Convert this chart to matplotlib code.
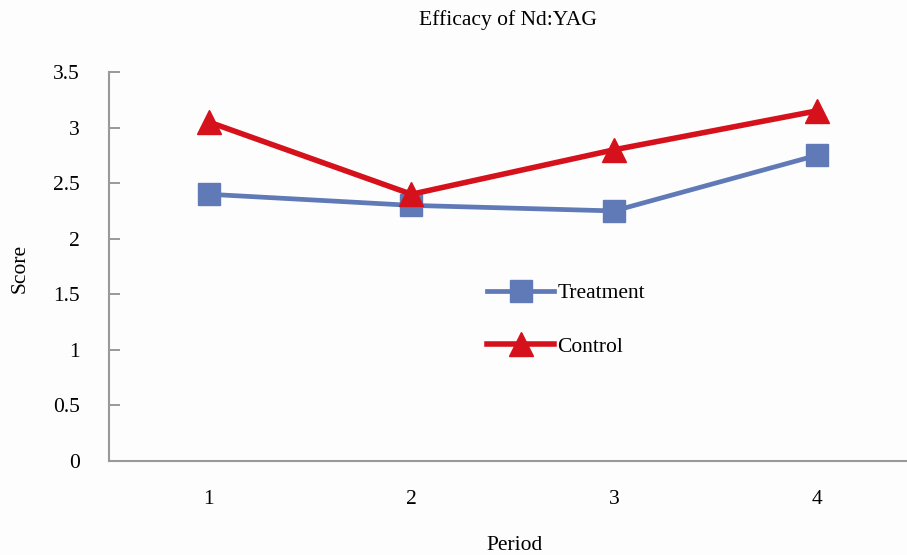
import matplotlib.pyplot as plt

# data
periods = [1, 2, 3, 4]
period_labels = ['1', '2', '3', '4']
treatment = [2.4, 2.3, 2.25, 2.75]
control = [3.05, 2.4, 2.8, 3.15]
yticks = [0, 0.5, 1, 1.5, 2, 2.5, 3, 3.5]
ytick_labels = ['0', '0.5', '1', '1.5', '2', '2.5', '3', '3.5']

plt.rcParams['font.family'] = ['Liberation Serif', 'DejaVu Serif']

fig = plt.figure(figsize=(9.07, 5.55), dpi=100, facecolor='#fdfdfd')
ax = fig.add_axes([109/907, 94/555, 809/907, 389/555])
ax.set_facecolor('#fdfdfd')

ax.plot(periods, treatment, color='#5f7ab6', lw=3.4, marker='s', ms=16.5,
        label='Treatment', zorder=3)
ax.plot(periods, control, color='#d5121b', lw=4.0, marker='^', ms=17,
        label='Control', zorder=4)

ax.set_xlim(0.507, 4.5)
ax.set_ylim(0, 3.5)
ax.set_xticks(periods)
ax.set_xticklabels(period_labels, fontsize=15.5)
ax.set_yticks(yticks)
ax.set_yticklabels(ytick_labels, fontsize=15.5)
ax.tick_params(axis='x', length=0, pad=21)
ax.tick_params(axis='y', direction='in', length=8, width=1.2, color='#888888', pad=21)

for s in ['top', 'right']:
    ax.spines[s].set_visible(False)
for s in ['left', 'bottom']:
    ax.spines[s].set_color('#999999')
    ax.spines[s].set_linewidth(1.5)

leg = ax.legend(loc='upper left', bbox_to_anchor=(359/809, 197/389), frameon=False,
                fontsize=15.5, handlelength=3.1, handletextpad=0.15,
                labelspacing=1.55, markerscale=1.0)

fig.text(508/907, 1 - 20/555, 'Efficacy of Nd:YAG', ha='center', va='center', fontsize=15.5)
fig.text(515/907, 1 - 545/555, 'Period', ha='center', va='center', fontsize=15.5)
fig.text(20/907, 1 - 268/555, 'Score', ha='center', va='center', rotation=90, fontsize=15.5)

fig.savefig('out.png', dpi=100, facecolor=fig.get_facecolor())
